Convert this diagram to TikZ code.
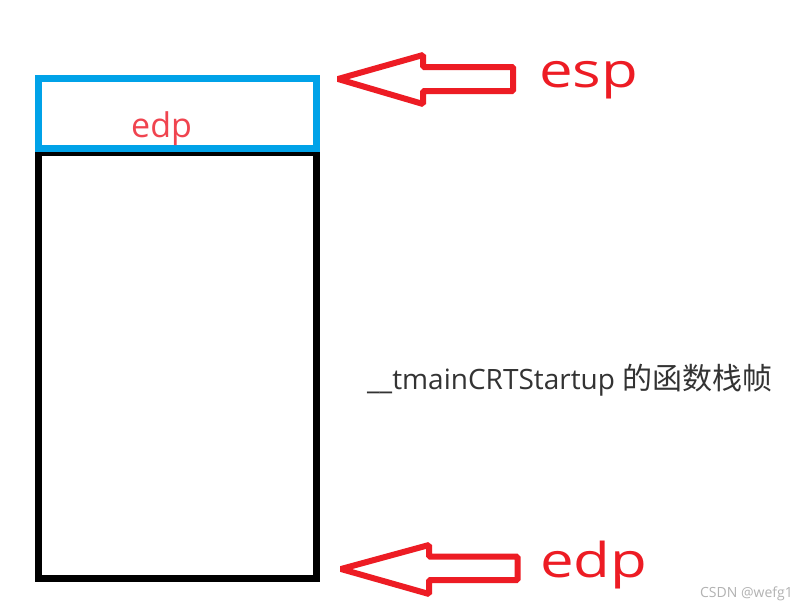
\documentclass[tikz,border=0pt]{standalone}
\usepackage{fontspec}
\setmainfont{Open Sans}
\newfontfamily\cjk{Noto Sans CJK SC}
\definecolor{arrred}{HTML}{ED1C24}
\definecolor{lblred}{HTML}{F0444F}
\definecolor{boxblue}{HTML}{00A2E8}
\definecolor{txtgray}{HTML}{333333}
\begin{document}
\begin{tikzpicture}[x=1pt,y=-1pt,
  framebox/.style={line width=7pt},
  blockarrow/.style={draw=arrred,line width=6pt,line join=bevel},
  bigred/.style={text=arrred,font=\fontsize{48}{48}\selectfont,inner sep=0pt,anchor=base west,xscale=1.25},
]
\useasboundingbox (0,0) rectangle (806,608);
\fill[white] (0,0) rectangle (806,608);
% frame boxes
\draw[framebox,draw=black] (38.5,152) rectangle (316.5,578.5);
\draw[framebox,draw=boxblue] (38.5,78.5) rectangle (316.5,148);
\node[text=lblred,font=\fontsize{34}{34}\selectfont,inner sep=0pt,anchor=base west] (edpsmall) at (131,137) {edp};
% esp arrow
\coordinate (esptip) at (338,79);
\draw[blockarrow] (esptip) -- (423,55) -- (423,67) -- (513,67) -- (513,91) -- (423,91) -- (423,104) -- cycle;
\node[bigred] (esp) at (539,87) {esp};
% edp arrow
\coordinate (edptip) at (341,569);
\draw[blockarrow] (edptip) -- (429,545) -- (429,556.5) -- (517.5,556.5) -- (517.5,580) -- (429,580) -- (429,594) -- cycle;
\node[bigred] (edp) at (540,577) {edp};
% label
\node[text=txtgray,font=\fontsize{28}{28}\selectfont,inner sep=0pt,anchor=base west] (frame) at (367,389) {\_\_tmainCRTStartup {\cjk\fontsize{30}{30}\selectfont 的函数栈帧}};
\node[text=black!30,font=\fontsize{14}{14}\selectfont,inner sep=0pt,anchor=base east] (wm) at (793,597) {CSDN @wefg1};
\end{tikzpicture}
\end{document}
